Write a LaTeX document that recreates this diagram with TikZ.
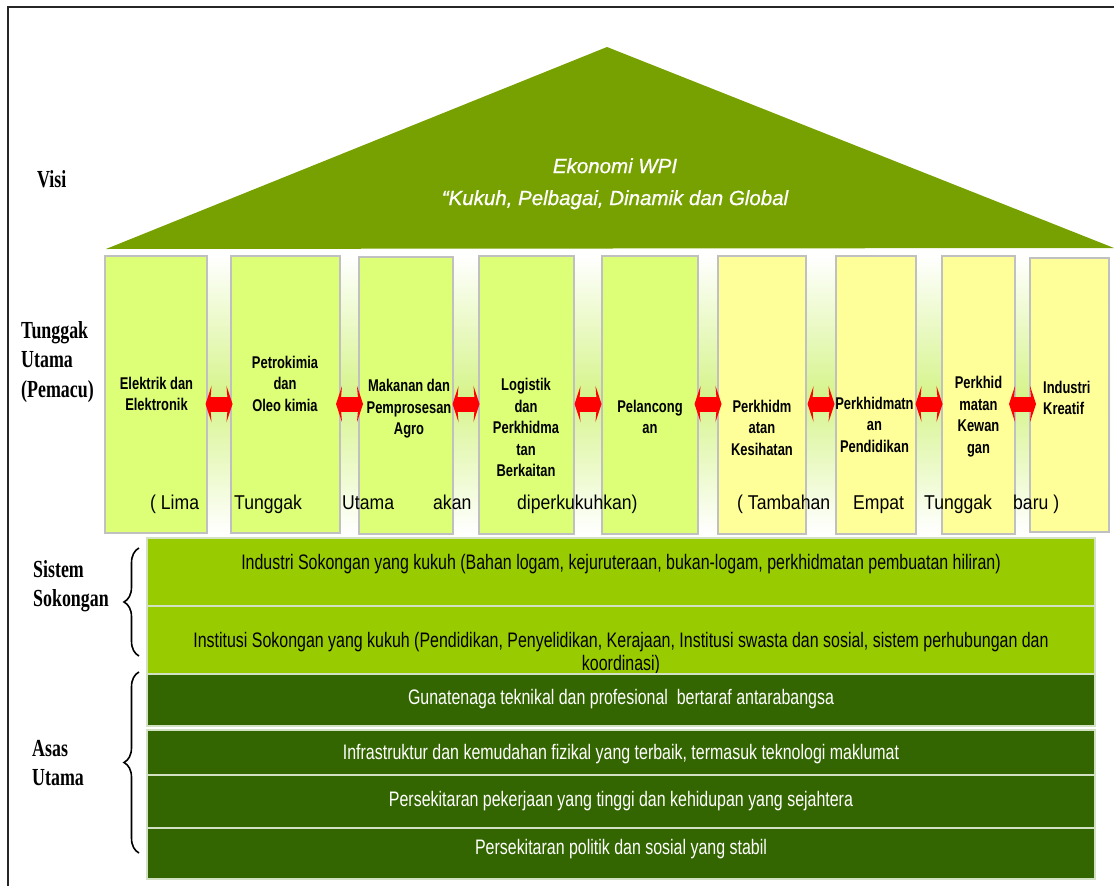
\documentclass[tikz,border=0pt]{standalone}
\usepackage{fontspec}
\setmainfont{Liberation Sans}
\newfontfamily\pilf{Liberation Sans}[FakeStretch=0.76]
\newfontfamily\bandf{Liberation Sans}[FakeStretch=0.76]
\newfontfamily\rowf{Liberation Sans}[FakeStretch=0.88]
\newfontfamily\labf{Liberation Serif}[FakeStretch=0.73]
\newfontfamily\rooff{Liberation Sans}[FakeBold=0.8]
\usetikzlibrary{arrows.meta,decorations.pathreplacing,calc}
\definecolor{roofgreen}{RGB}{119,161,0}
\definecolor{pillgreen}{RGB}{221,255,119}
\definecolor{pillyellow}{RGB}{255,255,153}
\definecolor{pillborder}{RGB}{192,192,192}
\definecolor{lightband}{RGB}{153,204,0}
\definecolor{darkband}{RGB}{51,102,0}
\definecolor{bandline}{RGB}{210,225,195}
\definecolor{glow}{RGB}{214,244,140}
\tikzset{
  pillar/.style={draw=pillborder, line width=1.5pt, anchor=north west, inner sep=0pt, outer sep=0pt},
  pg/.style={pillar, fill=pillgreen},
  py/.style={pillar, fill=pillyellow},
  ptext/.style={font=\pilf\bfseries\fontsize{17}{21.5}\selectfont, align=center, inner sep=0pt},
  rowtext/.style={font=\rowf\fontsize{20}{24}\selectfont, anchor=base west, inner sep=0pt},
  band/.style={draw=bandline, line width=1.2pt, anchor=north west, inner sep=0pt, outer sep=0pt, minimum width=948pt},
  bandtext/.style={font=\bandf\fontsize{21}{23}\selectfont, anchor=base, inner sep=0pt},
  lab/.style={font=\labf\bfseries\fontsize{24.5}{29.5}\selectfont, align=left, anchor=north west, inner sep=0pt},
  dbl/.style={draw=red, line width=15pt, {Stealth[length=6pt,width=36pt,inset=1.5pt]}-{Stealth[length=6pt,width=36pt,inset=1.5pt]}},
  bracestyle/.style={decorate, decoration={brace, amplitude=15pt}, line width=1.6pt},
}
\newcommand\pillarlink[2]{%
  \coordinate (m#1#2) at ($(#1.east)!.5!(#2.west)$);
  \draw[dbl] ([xshift=-13.5pt]m#1#2 |- ay) -- ([xshift=13.5pt]m#1#2 |- ay);}
\begin{document}
\begin{tikzpicture}[x=1pt, y=-1pt]
\useasboundingbox (0,0) rectangle (1114,886);
% glow behind pillars
\shade[top color=white, bottom color=white, middle color=glow] (105,256) rectangle (1110,533);
% roof
\fill[roofgreen] (106,249) -- (607,47) -- (1114,248) -- cycle;
\node[font=\rooff\itshape\fontsize{20.5}{32}\selectfont, text=white, align=center, anchor=north, inner sep=0pt] (vision) at (615,158)
  {Ekonomi WPI\\“Kukuh, Pelbagai, Dinamik dan Global};
% pillars
\node[pg, minimum width=102pt, minimum height=277pt] (p1) at (105,256) {};
\node[pg, minimum width=109pt, minimum height=277pt] (p2) at (231,256) {};
\node[pg, minimum width=94pt,  minimum height=277pt] (p3) at (359,257) {};
\node[pg, minimum width=95pt,  minimum height=278pt] (p4) at (479,256) {};
\node[pg, minimum width=96pt,  minimum height=278pt] (p5) at (602,256) {};
\node[py, minimum width=88pt,  minimum height=278pt] (p6) at (718,256) {};
\node[py, minimum width=80pt,  minimum height=278pt] (p7) at (836,256) {};
\node[py, minimum width=73pt,  minimum height=278pt] (p8) at (942,256) {};
\node[py, minimum width=79pt,  minimum height=274pt] (p9) at (1030,258) {};
% pillar texts
\node[ptext] (t1) at (156.5,394) {Elektrik dan\\Elektronik};
\node[ptext] (t2) at (285,383.5) {Petrokimia\\dan\\Oleo kimia};
\node[ptext] (t3) at (409,409) {Makanan dan\\Pemprosesan\\Agro};
\node[ptext] (t4) at (526,427.5) {Logistik\\dan\\Perkhidma\\tan\\Berkaitan};
\node[ptext] (t5) at (650,417) {Pelancong\\an};
\node[ptext] (t6) at (762,427.5) {Perkhidm\\atan\\Kesihatan};
\node[ptext] (t7) at (874.5,424.5) {Perkhidmatn\\an\\Pendidikan};
\node[ptext] (t8) at (978.5,416.5) {Perkhid\\matan\\Kewan\\gan};
\node[ptext, align=left, anchor=west] (t9) at (1043,398) {Industri\\Kreatif};
% row words
\node[rowtext] (w1) at (150,509) {( Lima};
\node[rowtext] (w2) at (234,509) {Tunggak};
\node[rowtext] (w3) at (342,509) {Utama};
\node[rowtext] (w4) at (433,509) {akan};
\node[rowtext] (w5) at (517,509) {diperkukuhkan)};
\node[rowtext] (w6) at (737,509) {( Tambahan};
\node[rowtext] (w7) at (853,509) {Empat};
\node[rowtext] (w8) at (924,509) {Tunggak};
\node[rowtext] (w9) at (1013,509) {baru )};
% arrows
\coordinate (ay) at (0,404);
\pillarlink{p1}{p2}
\pillarlink{p2}{p3}
\pillarlink{p3}{p4}
\pillarlink{p4}{p5}
\pillarlink{p5}{p6}
\pillarlink{p6}{p7}
\pillarlink{p7}{p8}
\pillarlink{p8}{p9}
% support bands
\node[band, fill=lightband, minimum height=68pt] (s1) at (147,538) {};
\node[band, fill=lightband, minimum height=68pt] (s2) at (147,606) {};
\node[bandtext] (s1t) at (621,569) {Industri Sokongan yang kukuh (Bahan logam, kejuruteraan, bukan-logam, perkhidmatan pembuatan hiliran)};
\node[bandtext] (s2t) at (621,647) {Institusi Sokongan yang kukuh (Pendidikan, Penyelidikan, Kerajaan, Institusi swasta dan sosial, sistem perhubungan dan};
\node[bandtext] (s2u) at (621,670) {koordinasi)};
% foundation bands
\node[band, fill=darkband, minimum height=52pt] (a1) at (147,674) {};
\node[band, fill=darkband, minimum height=45pt] (a2) at (147,730) {};
\node[band, fill=darkband, minimum height=53pt] (a3) at (147,775) {};
\node[band, fill=darkband, minimum height=51pt] (a4) at (147,828) {};
\node[bandtext, text=white] (a1t) at (621,704) {Gunatenaga teknikal dan profesional\ \ bertaraf antarabangsa};
\node[bandtext, text=white] (a2t) at (621,759) {Infrastruktur dan kemudahan fizikal yang terbaik, termasuk teknologi maklumat};
\node[bandtext, text=white] (a3t) at (621,806) {Persekitaran pekerjaan yang tinggi dan kehidupan yang sejahtera};
\node[bandtext, text=white] (a4t) at (621,854) {Persekitaran politik dan sosial yang stabil};
% left labels
\node[lab] (lvisi) at (37,170) {Visi};
\node[lab] (ltung) at (21,321) {Tunggak\\Utama\\(Pemacu)};
\node[lab] (lsis) at (33,560) {Sistem\\Sokongan};
\node[lab] (lasas) at (32,740) {Asas\\Utama};
% braces
\coordinate (bs1) at (139,656); \coordinate (bs2) at (139,548);
\coordinate (ba1) at (139,853); \coordinate (ba2) at (139,672);
\draw[bracestyle] (bs1) -- (bs2);
\draw[bracestyle] (ba1) -- (ba2);
% frame
\draw[line width=2pt, black!85] (8,886) -- (8,7) -- (1114,7);
\end{tikzpicture}
\end{document}
